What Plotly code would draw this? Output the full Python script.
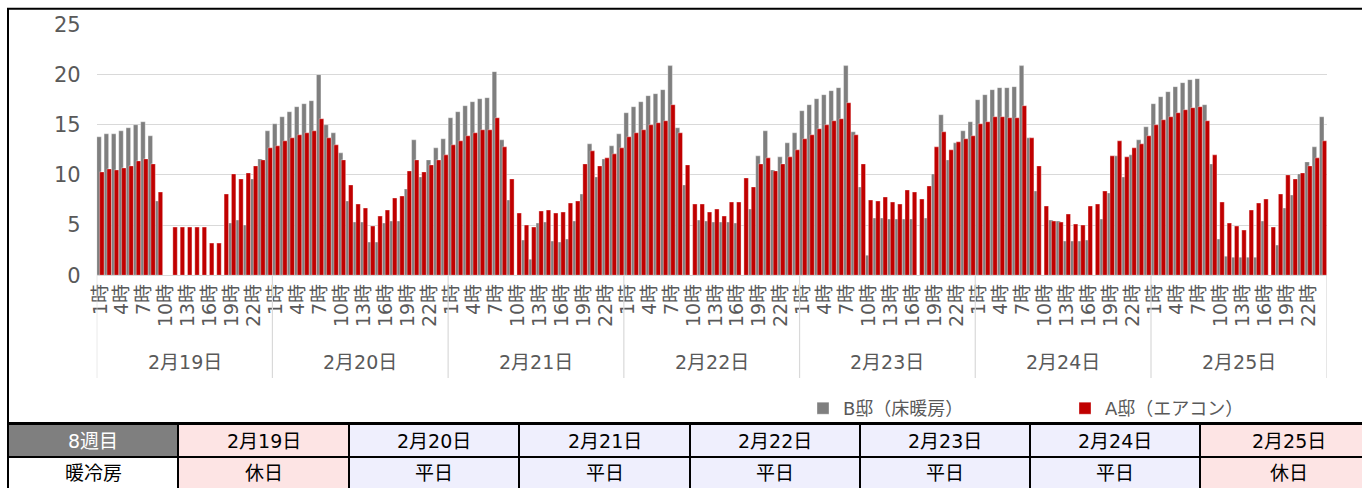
import plotly.graph_objects as go

days = ["2月19日", "2月20日", "2月21日", "2月22日", "2月23日", "2月24日", "2月25日"]
day_types = ["休日", "平日", "平日", "平日", "平日", "平日", "休日"]
hours = [f"{h}時" for h in range(1, 25)]
tick_hours = ["1時", "4時", "7時", "10時", "13時", "16時", "19時", "22時"]
week_label = "8週目"
row_label = "暖冷房"

# B邸（床暖房）hourly values, day by day (24 values per day)
b_d1 = [13.8, 14.1, 14.1, 14.4, 14.7, 15.0, 15.3, 13.9, 7.4, 0, 0, 0, 0, 0, 0, 0, 0, 0, 5.2, 5.5, 5.0, 9.6, 11.6, 14.4]
b_d2 = [15.1, 15.8, 16.3, 16.8, 17.1, 17.4, 20.0, 15.0, 14.2, 12.2, 7.4, 5.3, 5.3, 3.3, 3.3, 5.2, 5.4, 5.4, 8.6, 13.5, 9.8, 11.5, 12.7, 13.6]
b_d3 = [15.7, 16.3, 16.9, 17.3, 17.6, 17.7, 20.3, 13.5, 7.5, 0, 3.5, 1.6, 5.2, 5.3, 3.4, 3.3, 3.6, 5.4, 8.1, 13.1, 9.8, 11.6, 12.9, 14.1]
b_d4 = [16.2, 16.8, 17.3, 17.9, 18.1, 18.5, 20.9, 14.7, 9.0, 0, 5.5, 5.4, 5.3, 5.3, 5.3, 5.2, 0, 6.6, 11.9, 14.4, 10.5, 11.8, 13.2, 14.2]
b_d5 = [16.4, 17.0, 17.6, 18.0, 18.4, 18.7, 20.9, 14.3, 8.8, 2.0, 5.7, 5.7, 5.6, 5.6, 5.6, 5.6, 0, 5.7, 10.1, 16.0, 11.5, 13.2, 14.4, 15.3]
b_d6 = [17.5, 18.0, 18.5, 18.7, 18.7, 18.8, 20.9, 13.7, 8.4, 0, 5.5, 5.4, 3.4, 3.4, 3.4, 3.5, 0, 5.6, 8.2, 11.9, 9.8, 12.0, 13.5, 14.8]
b_d7 = [17.1, 17.8, 18.3, 18.8, 19.2, 19.5, 19.6, 17.0, 11.1, 3.6, 1.9, 1.8, 1.8, 1.8, 1.8, 5.4, 0, 3.0, 6.7, 8.0, 10.1, 11.3, 12.8, 15.8]

# A邸（エアコン）hourly values, day by day
a_d1 = [10.3, 10.6, 10.5, 10.7, 10.9, 11.4, 11.6, 11.1, 8.3, 0, 4.8, 4.8, 4.8, 4.8, 4.8, 3.2, 3.2, 8.1, 10.1, 9.6, 10.2, 10.9, 11.5, 12.7]
a_d2 = [12.9, 13.4, 13.7, 14.0, 14.2, 14.4, 15.6, 13.7, 13.0, 11.5, 9.0, 7.1, 6.7, 4.9, 5.9, 6.5, 7.7, 7.9, 10.4, 11.5, 10.3, 11.0, 11.5, 12.0]
a_d3 = [13.0, 13.4, 13.9, 14.2, 14.5, 14.5, 15.7, 12.8, 9.6, 6.2, 5.0, 4.8, 6.4, 6.5, 6.2, 6.3, 7.2, 7.4, 11.1, 12.4, 10.9, 11.7, 12.1, 12.7]
a_d4 = [13.8, 14.2, 14.5, 15.0, 15.2, 15.4, 17.0, 14.2, 11.0, 7.1, 7.1, 6.3, 6.6, 5.9, 7.3, 7.3, 9.7, 8.8, 11.1, 11.7, 10.4, 11.1, 11.8, 12.5]
a_d5 = [13.6, 14.0, 14.6, 15.0, 15.4, 15.6, 17.2, 14.0, 11.1, 7.5, 7.4, 7.8, 7.3, 7.1, 8.5, 8.3, 7.6, 8.9, 12.8, 14.3, 12.5, 13.3, 13.6, 13.9]
a_d6 = [15.1, 15.3, 15.8, 15.8, 15.7, 15.7, 16.9, 13.7, 10.9, 6.9, 5.4, 5.3, 6.1, 5.1, 5.0, 6.9, 7.1, 8.4, 11.9, 13.4, 11.8, 12.7, 13.1, 13.9]
a_d7 = [15.0, 15.5, 15.8, 16.2, 16.5, 16.7, 16.8, 15.4, 12.0, 7.3, 5.2, 4.9, 4.5, 6.5, 7.2, 7.6, 4.8, 8.1, 10.0, 9.6, 10.2, 10.9, 11.7, 13.4]

b_values = b_d1 + b_d2 + b_d3 + b_d4 + b_d5 + b_d6 + b_d7
a_values = a_d1 + a_d2 + a_d3 + a_d4 + a_d5 + a_d6 + a_d7

n_days = len(days)
n_h = len(hours)
xs = list(range(n_days * n_h))
tickvals = [d * n_h + hours.index(t) for d in range(n_days) for t in tick_hours]
ticktext = [t for d in range(n_days) for t in tick_hours]

FONT = "DejaVu Sans, Noto Sans CJK JP"
GRAY = "#7f7f7f"
RED = "#c00000"
TXT = "#595959"

# body margin is removed by a post script, so the figure fills the window
W, H = 1362, 488


def px_x(p):
    return p / W


def px_y(p):
    return (H - p) / H


fig = go.Figure()
fig.add_trace(go.Bar(
    x=xs, y=b_values, name="B邸（床暖房）",
    marker=dict(color=GRAY, line=dict(color="rgba(255,255,255,0.7)", width=0.5)),
    offset=-0.49, width=0.62,
))
fig.add_trace(go.Bar(
    x=xs, y=a_values, name="A邸（エアコン）",
    marker=dict(color=RED, line=dict(color="rgba(255,255,255,0.7)", width=0.5)),
    offset=-0.10, width=0.61,
))

x0p, x1p = 96.7, 1326.7
y0p, y25p = 275.2, 24.5

shapes = []
annotations = []

# outer frame
shapes.append(dict(type="rect", xref="paper", yref="paper",
                   x0=px_x(8), x1=px_x(1380), y0=px_y(423), y1=px_y(8.8),
                   line=dict(color="black", width=2), fillcolor="rgba(0,0,0,0)", layer="above"))

# day dividers
for d in range(n_days + 1):
    shapes.append(dict(type="line", xref="x", yref="paper",
                       x0=d * n_h - 0.5, x1=d * n_h - 0.5,
                       y0=px_y(y0p), y1=px_y(378),
                       line=dict(color="#d9d9d9", width=1.2)))

# day labels
for d, name in enumerate(days):
    annotations.append(dict(x=d * n_h + (n_h - 1) / 2, y=px_y(362), xref="x", yref="paper",
                            xanchor="center", yanchor="middle",
                            text=name, showarrow=False,
                            font=dict(family=FONT, size=19, color=TXT)))

# table
col_edges = [8, 178, 349, 519, 690, 860, 1030, 1200, 1380]
row_edges = [424, 457, 495]
row_text_y = [441, 473]
PINK = "#fde4e4"
LAV = "#efeffd"
for r in range(2):
    for c in range(len(col_edges) - 1):
        if c == 0:
            fill = GRAY if r == 0 else "white"
            txt = week_label if r == 0 else row_label
            col = "white" if r == 0 else "black"
        else:
            dt = day_types[c - 1]
            fill = PINK if dt == "休日" else LAV
            txt = days[c - 1] if r == 0 else dt
            col = "black"
        shapes.append(dict(type="rect", xref="paper", yref="paper",
                           x0=px_x(col_edges[c]), x1=px_x(col_edges[c + 1]),
                           y0=px_y(row_edges[r + 1]), y1=px_y(row_edges[r]),
                           fillcolor=fill, line=dict(color="black", width=2), layer="above"))
        cx = (col_edges[c] + col_edges[c + 1]) / 2
        if c == len(col_edges) - 2:
            cx = 1289
        annotations.append(dict(x=px_x(cx), y=px_y(row_text_y[r]),
                                xref="paper", yref="paper", xanchor="center", yanchor="middle",
                                text=txt, showarrow=False,
                                font=dict(family=FONT, size=19, color=col)))

fig.update_layout(
    width=W, height=H,
    margin=dict(l=0, r=0, t=0, b=0),
    paper_bgcolor="white", plot_bgcolor="white",
    barmode="overlay",
    font=dict(family=FONT, color=TXT),
    showlegend=True,
    legend=dict(orientation="h", x=px_x(803), y=px_y(390), xanchor="left", yanchor="top",
                font=dict(family=FONT, size=18, color=TXT),
                entrywidth=217, entrywidthmode="pixels", itemwidth=30,
                bgcolor="rgba(0,0,0,0)"),
    xaxis=dict(domain=[px_x(x0p), px_x(x1p)], range=[-0.5, n_days * n_h - 0.5],
               tickmode="array", tickvals=tickvals, ticktext=ticktext, tickangle=-90,
               tickfont=dict(family=FONT, size=19, color=TXT),
               showgrid=False, zeroline=False, showline=True, linecolor="#d9d9d9", linewidth=1.2,
               ticks="", automargin=False, fixedrange=True),
    yaxis=dict(domain=[px_y(y0p), px_y(y25p)], range=[0, 25], tickvals=[0, 5, 10, 15, 20, 25],
               tickfont=dict(family=FONT, size=21, color=TXT),
               showgrid=True, gridcolor="#d9d9d9", gridwidth=1.2, zeroline=False,
               showline=False, ticks="", ticklabelstandoff=15, automargin=False, fixedrange=True),
    shapes=shapes,
    annotations=annotations,
)

fig.write_html("out.html", config={"displayModeBar": False},
               post_script="document.body.style.margin='0px';")
